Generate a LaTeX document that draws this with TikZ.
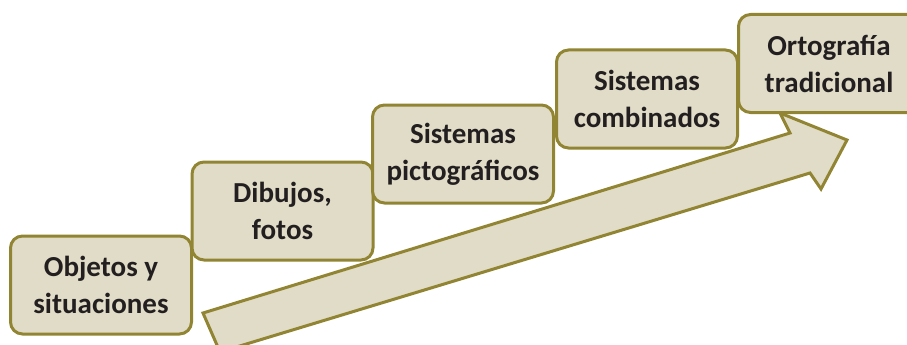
\documentclass[tikz,border=0pt]{standalone}
\usepackage{fontspec}
\setmainfont{Carlito}
\definecolor{boxfill}{RGB}{224,220,199}
\definecolor{boxline}{RGB}{145,132,50}
\definecolor{txt}{RGB}{35,31,32}
\begin{document}
\begin{tikzpicture}[x=1pt,y=-1pt,
  stepbox/.style={draw=boxline,fill=boxfill,line width=3pt,rounded corners=12pt,
    minimum width=181pt,minimum height=98pt,align=center,text=txt,
    font=\fontsize{29}{37}\selectfont\bfseries,inner sep=0pt},
  bigarrow/.style={draw=boxline,fill=boxfill,line width=3pt,line join=miter}]
\useasboundingbox (0,0) rectangle (907,345);
\begin{scope}
\clip (0,0) rectangle (907,345);
\node[stepbox] (b1) at (101,285) {Objetos y\\situaciones};
\node[stepbox] (b2) at (282.5,211) {Dibujos,\\fotos};
\node[stepbox] (b3) at (463,154) {Sistemas\\pictográficos};
\node[stepbox] (b4) at (647,99) {Sistemas\\combinados};
\draw[bigarrow] (203,313) -- (790,133) -- (780,113) -- (847,140) -- (821,189) -- (810,173) -- (220,352) -- cycle;
\node[stepbox] (b5) at (829,63.5) {Ortografía\\tradicional};
\end{scope}
\end{tikzpicture}
\end{document}
